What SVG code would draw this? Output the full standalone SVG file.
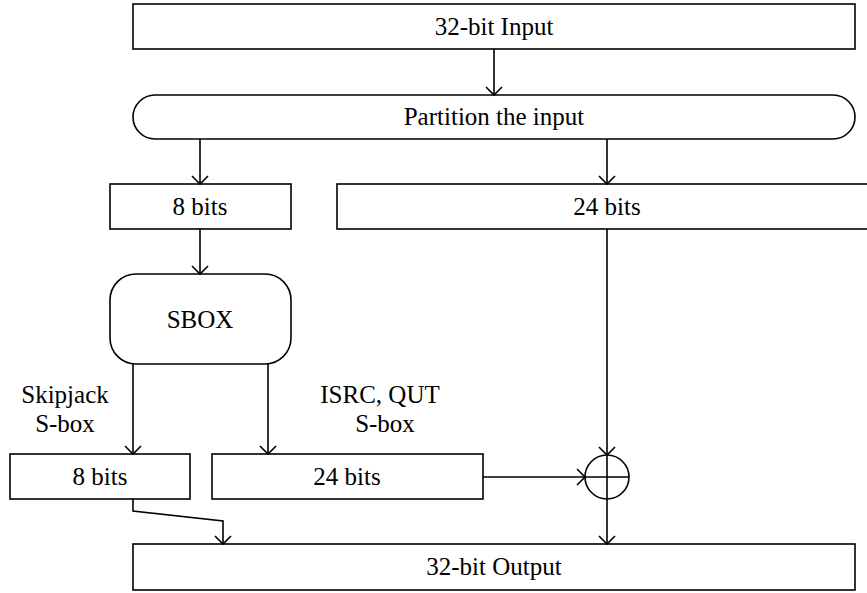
<svg xmlns="http://www.w3.org/2000/svg" width="867" height="593" viewBox="0 0 867 593">
<style>
.box{fill:#fff;stroke:#000;stroke-width:1.6}
.ln{fill:none;stroke:#000;stroke-width:1.6}
text{font-family:"Liberation Serif","Times New Roman",serif;font-size:25px;fill:#000;text-anchor:middle}
</style>
<defs>
<marker id="arr" markerUnits="userSpaceOnUse" markerWidth="20" markerHeight="20" refX="10" refY="10" orient="auto" viewBox="0 0 20 20">
<path d="M2,2 L10,10 L2,18" fill="none" stroke="#000" stroke-width="1.6"/>
</marker>
</defs>
<rect width="867" height="593" fill="#fff"/>
<g id="input"><rect class="box" x="133" y="4" width="722" height="45"/><text x="494" y="35">32-bit Input</text></g>
<g id="partition"><rect class="box" x="133" y="95" width="722" height="44" rx="22" ry="22"/><text x="494" y="125">Partition the input</text></g>
<g id="bits8a"><rect class="box" x="110" y="184" width="181" height="45"/><text x="200" y="215">8 bits</text></g>
<g id="bits24a"><rect class="box" x="337" y="184" width="540" height="45"/><text x="607" y="215">24 bits</text></g>
<g id="sbox"><rect class="box" x="110" y="274" width="181" height="90" rx="26" ry="26"/><text x="200" y="328">SBOX</text></g>
<g id="bits8b"><rect class="box" x="10" y="454" width="180" height="45"/><text x="100" y="485">8 bits</text></g>
<g id="bits24b"><rect class="box" x="212" y="454" width="271" height="45"/><text x="347" y="485">24 bits</text></g>
<g id="xor"><circle class="ln" cx="607" cy="477" r="22"/><path class="ln" d="M585,477 H629 M607,455 V499"/></g>
<g id="output"><rect class="box" x="133" y="544" width="722" height="46"/><text x="494" y="575">32-bit Output</text></g>
<g id="labels">
<text x="65" y="403">Skipjack</text><text x="65" y="432">S-box</text>
<text x="380" y="403">ISRC, QUT</text><text x="385" y="432">S-box</text>
</g>
<g id="connectors">
<path class="ln" d="M494,49 V95" marker-end="url(#arr)"/>
<path class="ln" d="M200,139 V184" marker-end="url(#arr)"/>
<path class="ln" d="M607,139 V184" marker-end="url(#arr)"/>
<path class="ln" d="M200,229 V274" marker-end="url(#arr)"/>
<path class="ln" d="M133,364 V454" marker-end="url(#arr)"/>
<path class="ln" d="M268,364 V454" marker-end="url(#arr)"/>
<path class="ln" d="M607,229 V455" marker-end="url(#arr)"/>
<path class="ln" d="M483,477 H585" marker-end="url(#arr)"/>
<path class="ln" d="M607,499 V544" marker-end="url(#arr)"/>
<path class="ln" d="M133,499 V511 L223,521 V544" marker-end="url(#arr)"/>
</g>
</svg>
